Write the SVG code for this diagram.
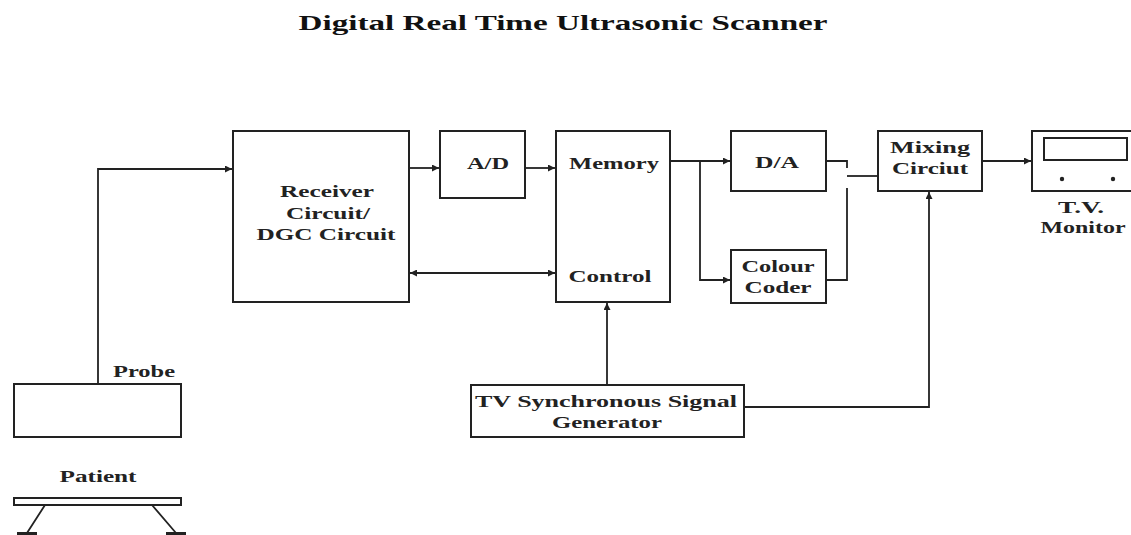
<svg xmlns="http://www.w3.org/2000/svg" width="1131" height="535" viewBox="0 0 1131 535">
<defs>
<style>
.box{fill:#fff;stroke:#222;stroke-width:2}
.ln{fill:none;stroke:#222;stroke-width:1.8}
.t{font-family:"Liberation Serif","Times New Roman",serif;font-weight:bold;font-size:17px;fill:#222;text-anchor:middle}
.title{font-family:"Liberation Serif","Times New Roman",serif;font-weight:bold;font-size:21px;fill:#111;text-anchor:middle}
</style>
<marker id="ah" viewBox="0 0 10 10" refX="10" refY="5" markerWidth="9" markerHeight="7" markerUnits="userSpaceOnUse" orient="auto-start-reverse">
<path d="M0,0 L10,5 L0,10 Z" fill="#222"/>
</marker>
</defs>
<rect width="1131" height="535" fill="#fff"/>
<text class="title" x="563" y="30" textLength="529" lengthAdjust="spacingAndGlyphs">Digital Real Time Ultrasonic Scanner</text>

<g id="connectors">
<path class="ln" d="M98,384 V169 H232" marker-end="url(#ah)"/>
<path class="ln" d="M409,168 H439" marker-end="url(#ah)"/>
<path class="ln" d="M525,168 H555" marker-end="url(#ah)"/>
<path class="ln" d="M410,273 H555" marker-start="url(#ah)" marker-end="url(#ah)"/>
<path class="ln" d="M670,161 H730" marker-end="url(#ah)"/>
<path class="ln" d="M700,161 V280 H730" marker-end="url(#ah)"/>
<path class="ln" d="M826,161 H847 V168"/>
<path class="ln" d="M847,176 H878"/>
<path class="ln" d="M847,188 V280 H826"/>
<path class="ln" d="M982,161 H1031" marker-end="url(#ah)"/>
<path class="ln" d="M607,385 V303" marker-end="url(#ah)"/>
<path class="ln" d="M744,407 H929 V192" marker-end="url(#ah)"/>
</g>

<g id="receiver">
<rect class="box" x="233" y="131" width="176" height="171"/>
<text class="t" x="327" y="197" textLength="94" lengthAdjust="spacingAndGlyphs">Receiver</text>
<text class="t" x="328" y="219" textLength="84" lengthAdjust="spacingAndGlyphs">Circuit/</text>
<text class="t" x="326" y="240" textLength="139" lengthAdjust="spacingAndGlyphs">DGC Circuit</text>
</g>

<g id="ad">
<rect class="box" x="440" y="131" width="85" height="67"/>
<text class="t" x="488" y="169" textLength="42" lengthAdjust="spacingAndGlyphs">A/D</text>
</g>

<g id="memory-control">
<rect class="box" x="556" y="131" width="114" height="171"/>
<text class="t" x="614" y="169" textLength="90" lengthAdjust="spacingAndGlyphs">Memory</text>
<text class="t" x="610" y="282" textLength="83" lengthAdjust="spacingAndGlyphs">Control</text>
</g>

<g id="da">
<rect class="box" x="731" y="131" width="95" height="60"/>
<text class="t" x="777" y="168" textLength="44" lengthAdjust="spacingAndGlyphs">D/A</text>
</g>

<g id="colour-coder">
<rect class="box" x="731" y="250" width="95" height="53"/>
<text class="t" x="778" y="272" textLength="73" lengthAdjust="spacingAndGlyphs">Colour</text>
<text class="t" x="778" y="293" textLength="67" lengthAdjust="spacingAndGlyphs">Coder</text>
</g>

<g id="mixing">
<rect class="box" x="878" y="131" width="104" height="60"/>
<text class="t" x="930" y="153" textLength="80" lengthAdjust="spacingAndGlyphs">Mixing</text>
<text class="t" x="930" y="174" textLength="76" lengthAdjust="spacingAndGlyphs">Circiut</text>
</g>

<g id="tv-monitor">
<rect class="box" x="1032" y="131" width="110" height="60"/>
<rect class="box" x="1044" y="138" width="83" height="22"/>
<circle cx="1062" cy="179" r="2.2" fill="#222"/>
<circle cx="1113" cy="179" r="2.2" fill="#222"/>
<text class="t" x="1081" y="213" textLength="46" lengthAdjust="spacingAndGlyphs">T.V.</text>
<text class="t" x="1083" y="233" textLength="85" lengthAdjust="spacingAndGlyphs">Monitor</text>
</g>

<g id="tv-sync">
<rect class="box" x="471" y="385" width="273" height="52"/>
<text class="t" x="606" y="407" textLength="262" lengthAdjust="spacingAndGlyphs">TV Synchronous Signal</text>
<text class="t" x="607" y="428" textLength="110" lengthAdjust="spacingAndGlyphs">Generator</text>
</g>

<g id="probe">
<rect class="box" x="14" y="384" width="167" height="53"/>
<text class="t" x="144" y="377" textLength="62" lengthAdjust="spacingAndGlyphs">Probe</text>
</g>

<g id="patient">
<text class="t" x="98" y="482" textLength="77" lengthAdjust="spacingAndGlyphs">Patient</text>
<rect class="box" x="14" y="498" width="167" height="7" stroke-width="1.8"/>
<path class="ln" d="M45,505 L27,533 M152,505 L176,533"/>
<path d="M17,532 H37 V535 H17 Z M166,532 H186 V535 H166 Z" fill="#222"/>
</g>
</svg>
